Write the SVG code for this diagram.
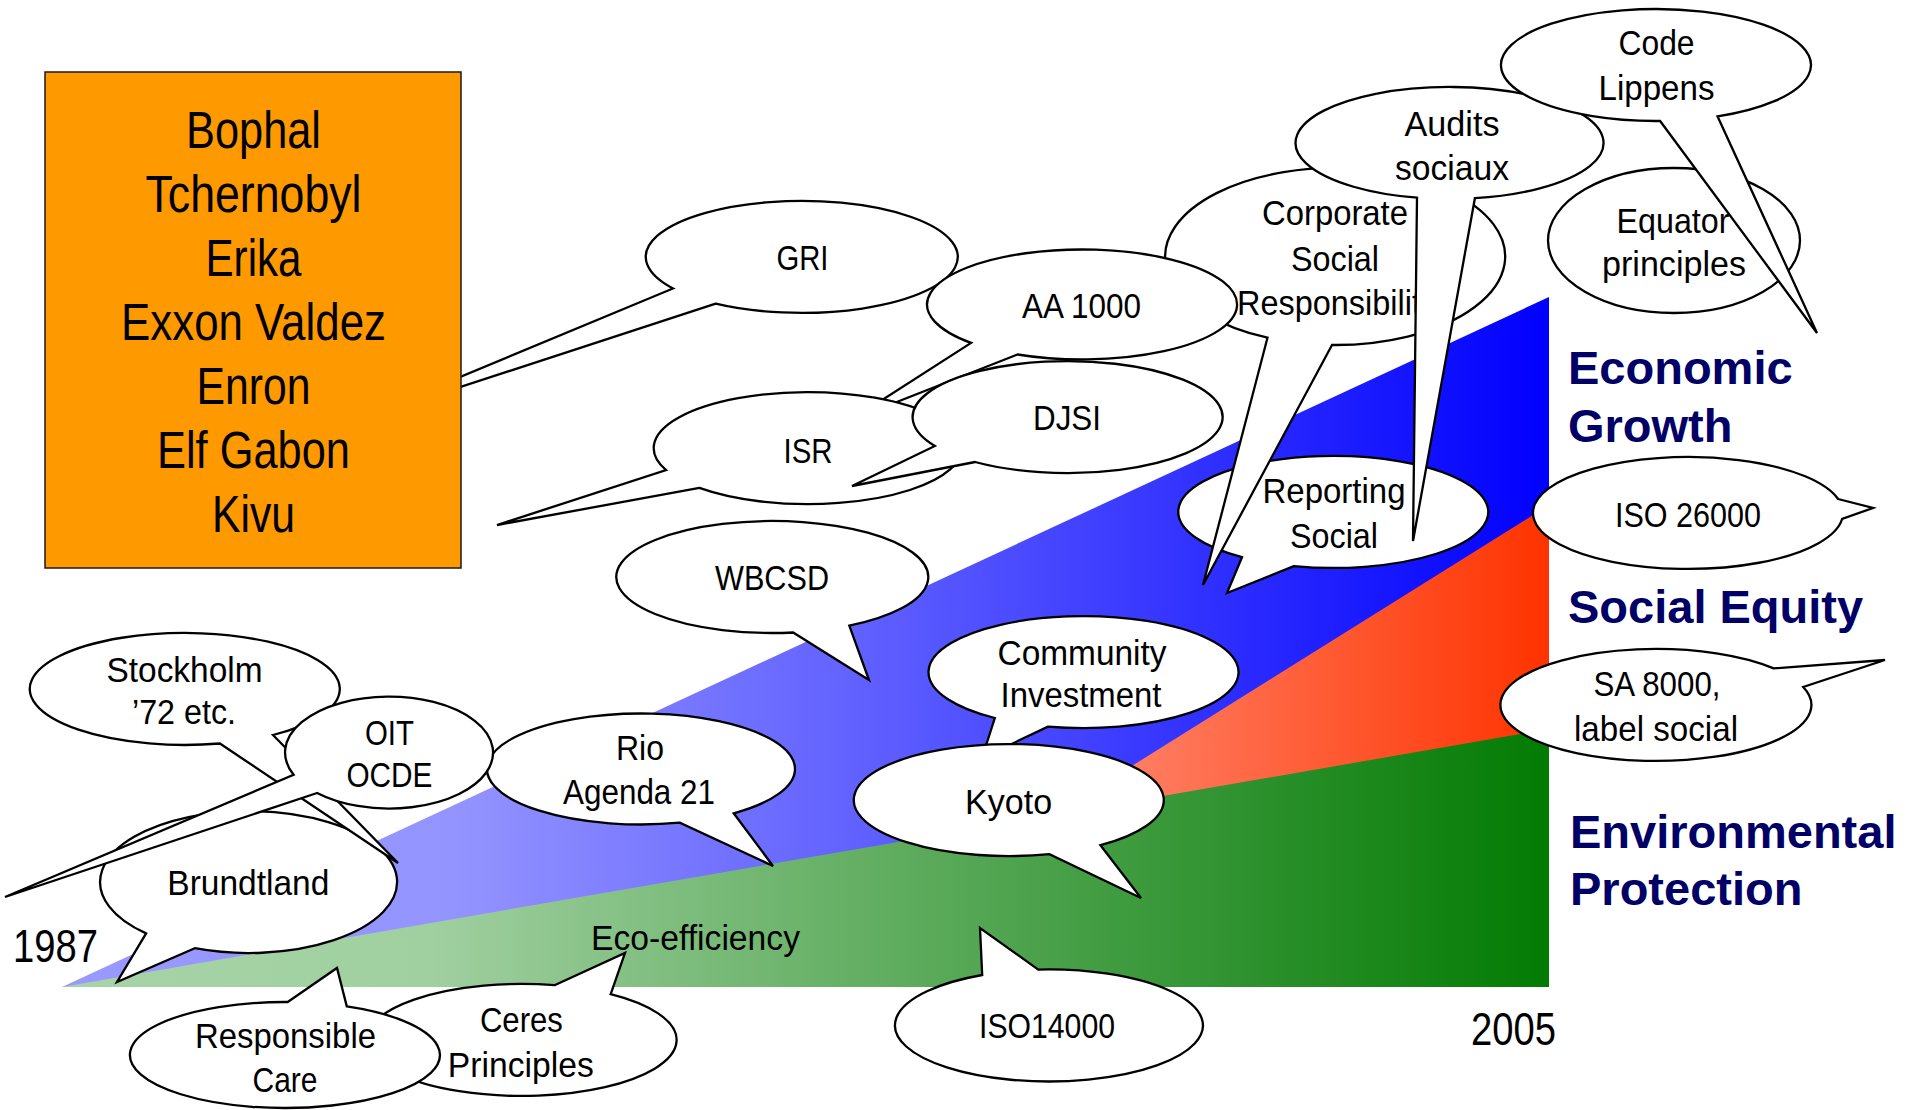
<svg xmlns="http://www.w3.org/2000/svg" width="1909" height="1110" viewBox="0 0 1909 1110">
<defs>
<linearGradient id="gBlue" gradientUnits="userSpaceOnUse" x1="62" y1="0" x2="1549" y2="0">
<stop offset="0" stop-color="#9999ff"/><stop offset="0.263" stop-color="#9494ff"/><stop offset="0.53" stop-color="#6262ff"/><stop offset="1" stop-color="#0000ff"/>
</linearGradient>
<linearGradient id="gGreen" gradientUnits="userSpaceOnUse" x1="62" y1="0" x2="1549" y2="0">
<stop offset="0" stop-color="#a6d4a6"/><stop offset="0.25" stop-color="#a0cfa0"/><stop offset="1" stop-color="#037b03"/>
</linearGradient>
<linearGradient id="gRed" gradientUnits="userSpaceOnUse" x1="1060" y1="0" x2="1549" y2="0">
<stop offset="0" stop-color="#ff8a73"/><stop offset="1" stop-color="#ff3300"/>
</linearGradient>
<style>
.b{fill:#fff;stroke:#000;stroke-width:2.3;stroke-linejoin:miter}
.t{font-family:"Liberation Sans",Arial,sans-serif;font-size:35px;fill:#000;text-anchor:middle}
.bx{font-family:"Liberation Sans",Arial,sans-serif;font-size:51px;fill:#000;text-anchor:middle}
.yr{font-family:"Liberation Sans",Arial,sans-serif;font-size:46px;fill:#000;text-anchor:middle}
.lbl{font-family:"Liberation Sans",Arial,sans-serif;font-weight:bold;font-size:47px;fill:#000066}
</style>
</defs>
<g id="chart">
<polygon points="62,987 1549,297 1549,987" fill="url(#gBlue)"/>
<polygon points="1000,848.5 1549,505 1549,800" fill="url(#gRed)"/>
<polygon points="62,987 1549,729 1549,987" fill="url(#gGreen)"/>
</g>
<g id="labels">
<text class="lbl" x="1568" y="384">Economic</text>
<text class="lbl" x="1568" y="442">Growth</text>
<text class="lbl" x="1568" y="623">Social Equity</text>
<text class="lbl" x="1570" y="848">Environmental</text>
<text class="lbl" x="1570" y="905">Protection</text>
<text class="t" x="695.5" y="950" textLength="209" lengthAdjust="spacingAndGlyphs">Eco-efficiency</text>
<text class="yr" x="55.5" y="962" textLength="85" lengthAdjust="spacingAndGlyphs">1987</text>
<text class="yr" x="1513.5" y="1045" textLength="85" lengthAdjust="spacingAndGlyphs">2005</text>
</g>
<g id="gri"><path class="b" d="M715.7 303.6 L347 424 L673 288.5 A156 56 0 1 1 715.7 303.6 Z"/><text class="t" x="802.5" y="270" textLength="52" lengthAdjust="spacingAndGlyphs">GRI</text></g>
<g id="disasters">
<rect x="45" y="72" width="416" height="496" fill="#ff9900" stroke="#1a1a1a" stroke-width="1.5"/>
<text class="bx" x="253.5" y="148" textLength="135" lengthAdjust="spacingAndGlyphs">Bophal</text>
<text class="bx" x="253.5" y="212" textLength="216" lengthAdjust="spacingAndGlyphs">Tchernobyl</text>
<text class="bx" x="253.5" y="276" textLength="96" lengthAdjust="spacingAndGlyphs">Erika</text>
<text class="bx" x="253.5" y="340" textLength="265" lengthAdjust="spacingAndGlyphs">Exxon Valdez</text>
<text class="bx" x="253.5" y="404" textLength="114" lengthAdjust="spacingAndGlyphs">Enron</text>
<text class="bx" x="253.5" y="468" textLength="193" lengthAdjust="spacingAndGlyphs">Elf Gabon</text>
<text class="bx" x="253.5" y="532" textLength="83" lengthAdjust="spacingAndGlyphs">Kivu</text>
</g>
<g id="reporting"><path class="b" d="M1293.9 566.1 L1227 593 L1242 557.2 A155 56 0 1 1 1293.9 566.1 Z"/><text class="t" x="1334" y="503" textLength="143" lengthAdjust="spacingAndGlyphs">Reporting</text><text class="t" x="1334" y="548" textLength="88" lengthAdjust="spacingAndGlyphs">Social</text></g>
<g id="csr"><path class="b" d="M1332 345 L1203 585 L1267.5 337.7 A170 88.5 0 1 1 1332 345 Z"/><text class="t" x="1335" y="225" textLength="146" lengthAdjust="spacingAndGlyphs">Corporate</text><text class="t" x="1335" y="271" textLength="88" lengthAdjust="spacingAndGlyphs">Social</text><text class="t" x="1237" y="315" style="text-anchor:start" textLength="184" lengthAdjust="spacingAndGlyphs">Responsibilit</text></g>
<g id="aa1000"><path class="b" d="M1017.5 354.5 L851 420 L971.1 342.9 A155 55 0 1 1 1017.5 354.5 Z"/><text class="t" x="1081.5" y="317.5" textLength="119" lengthAdjust="spacingAndGlyphs">AA 1000</text></g>
<g id="isr"><path class="b" d="M699.4 487.9 L497 525 L666.1 470.1 A154 56 0 1 1 699.4 487.9 Z"/><text class="t" x="808" y="462.7" textLength="49" lengthAdjust="spacingAndGlyphs">ISR</text></g>
<g id="djsi"><path class="b" d="M975.1 462 L852 486 L934.9 446 A155 56 0 1 1 975.1 462 Z"/><text class="t" x="1067" y="430.4" textLength="68" lengthAdjust="spacingAndGlyphs">DJSI</text></g>
<g id="audits"><path class="b" d="M1474.9 198.2 L1413 541 L1417 197.7 A154 56 0 1 1 1474.9 198.2 Z"/><text class="t" x="1452" y="136" textLength="95" lengthAdjust="spacingAndGlyphs">Audits</text><text class="t" x="1452" y="180" textLength="114" lengthAdjust="spacingAndGlyphs">sociaux</text></g>
<g id="equator"><ellipse class="b" cx="1674" cy="240.5" rx="126" ry="72.5"/><text class="t" x="1673" y="232.7" textLength="113" lengthAdjust="spacingAndGlyphs">Equator</text><text class="t" x="1674" y="276" textLength="144" lengthAdjust="spacingAndGlyphs">principles</text></g>
<g id="lippens"><path class="b" d="M1717.6 116.4 L1817 333 L1660.1 121 A155 56 0 1 1 1717.6 116.4 Z"/><text class="t" x="1656.5" y="55" textLength="76" lengthAdjust="spacingAndGlyphs">Code</text><text class="t" x="1656.5" y="100" textLength="116" lengthAdjust="spacingAndGlyphs">Lippens</text></g>
<g id="wbcsd"><path class="b" d="M849.3 625.7 L869 680 L793.1 632.5 A156 56 0 1 1 849.3 625.7 Z"/><text class="t" x="772" y="590" textLength="114" lengthAdjust="spacingAndGlyphs">WBCSD</text></g>
<g id="rio"><path class="b" d="M733.7 813.3 L773 866 L679.8 822.7 A154 55.5 0 1 1 733.7 813.3 Z"/><text class="t" x="640" y="760" textLength="48" lengthAdjust="spacingAndGlyphs">Rio</text><text class="t" x="639" y="804" textLength="152" lengthAdjust="spacingAndGlyphs">Agenda 21</text></g>
<g id="community"><path class="b" d="M1048.1 726.6 L982 758 L994.8 718 A155 56 0 1 1 1048.1 726.6 Z"/><text class="t" x="1082" y="665" textLength="169" lengthAdjust="spacingAndGlyphs">Community</text><text class="t" x="1081" y="707" textLength="161" lengthAdjust="spacingAndGlyphs">Investment</text></g>
<g id="kyoto"><path class="b" d="M1100.5 845.2 L1141 898 L1049.4 854.1 A155 56 0 1 1 1100.5 845.2 Z"/><text class="t" x="1008.6" y="814.3" textLength="87" lengthAdjust="spacingAndGlyphs">Kyoto</text></g>
<g id="iso14000"><path class="b" d="M982.2 975 L980 928 L1038.3 969.6 A154 56 0 1 1 982.2 975 Z"/><text class="t" x="1047" y="1037.5" textLength="136" lengthAdjust="spacingAndGlyphs">ISO14000</text></g>
<g id="iso26000"><path class="b" d="M1838.1 499 L1873 508 L1842.1 519 A155 56 0 1 1 1838.1 499 Z"/><text class="t" x="1688" y="526.7" textLength="146" lengthAdjust="spacingAndGlyphs">ISO 26000</text></g>
<g id="sa8000"><path class="b" d="M1773.7 668.4 L1885 660 L1803.2 687 A155.5 56 0 1 1 1773.7 668.4 Z"/><text class="t" x="1657" y="695.7" textLength="127" lengthAdjust="spacingAndGlyphs">SA 8000,</text><text class="t" x="1656" y="740.7" textLength="164" lengthAdjust="spacingAndGlyphs">label social</text></g>
<g id="brundtland"><path class="b" d="M194.8 948.2 L117 982 L146.1 933.4 A148.5 71 0 1 1 194.8 948.2 Z"/><text class="t" x="248.3" y="895" textLength="162" lengthAdjust="spacingAndGlyphs">Brundtland</text></g>
<g id="stockholm"><path class="b" d="M273 735 L398 863 L219.9 743.5 A155 56 0 1 1 273 735 Z"/><text class="t" x="184.5" y="681.7" textLength="156" lengthAdjust="spacingAndGlyphs">Stockholm</text><text class="t" x="184" y="724" textLength="104" lengthAdjust="spacingAndGlyphs">’72 etc.</text></g>
<g id="oit"><path class="b" d="M317.1 793 L5 897 L293.6 774.8 A104 56 0 1 1 317.1 793 Z"/><text class="t" x="389.5" y="744.6" textLength="49" lengthAdjust="spacingAndGlyphs">OIT</text><text class="t" x="389.4" y="787.3" textLength="86" lengthAdjust="spacingAndGlyphs">OCDE</text></g>
<g id="ceres"><path class="b" d="M554.5 985.2 L625 953 L610.7 994.1 A155 56 0 1 1 554.5 985.2 Z"/><text class="t" x="521.4" y="1032" textLength="83" lengthAdjust="spacingAndGlyphs">Ceres</text><text class="t" x="520.8" y="1076.8" textLength="146" lengthAdjust="spacingAndGlyphs">Principles</text></g>
<g id="responsible"><path class="b" d="M287.7 1002 L337 968 L346.8 1006.4 A155 53 0 1 1 287.7 1002 Z"/><text class="t" x="285.5" y="1048.3" textLength="181" lengthAdjust="spacingAndGlyphs">Responsible</text><text class="t" x="285" y="1091.7" textLength="65" lengthAdjust="spacingAndGlyphs">Care</text></g>
</svg>
